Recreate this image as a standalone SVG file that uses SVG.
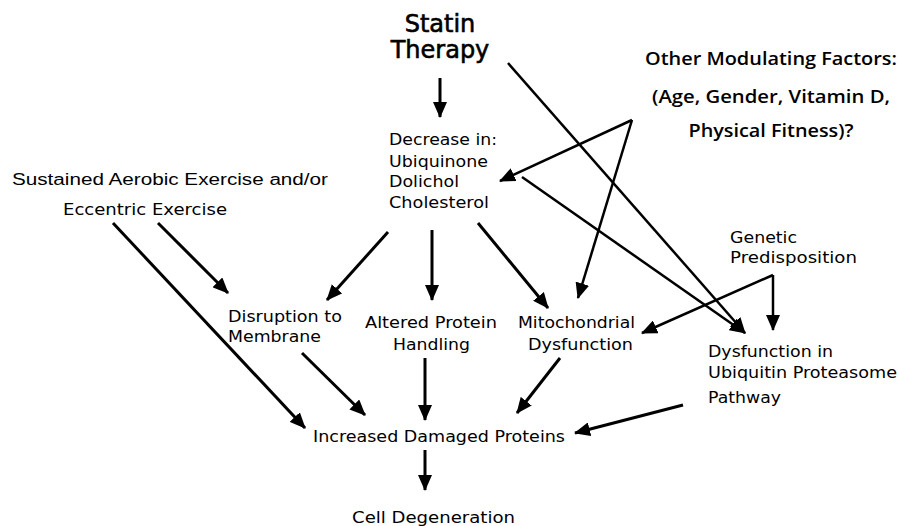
<svg xmlns="http://www.w3.org/2000/svg" width="898" height="526" viewBox="0 0 898 526">
<defs>
<marker id="ah" markerUnits="userSpaceOnUse" markerWidth="16" markerHeight="14" refX="15" refY="7" orient="auto">
<path d="M0,0 L16,7 L0,14 z" fill="#000"/>
</marker>
<style>
.t{font-family:"DejaVu Sans",sans-serif;font-size:15px;fill:#000}
.big{font-family:"DejaVu Sans",sans-serif;font-size:24px;fill:#000;stroke:#000;stroke-width:0.6}
.b{font-family:"Open Sans","Liberation Sans",sans-serif;font-weight:600;font-size:18px;fill:#000}
.a{font-family:"Liberation Sans",Arial,sans-serif;font-size:16px;fill:#000}
.c line{stroke:#000;stroke-width:3;marker-end:url(#ah)}
.c line.th{stroke-width:2.5}
</style>
</defs>
<rect width="898" height="526" fill="#fff"/>
<g id="statin"><text class="big" x="440" y="32" text-anchor="middle">Statin</text><text class="big" x="440" y="58" text-anchor="middle">Therapy</text></g>
<g id="decrease"><text class="t" x="389" y="145" textLength="108" lengthAdjust="spacingAndGlyphs">Decrease in:</text><text class="t" x="389" y="167" textLength="99" lengthAdjust="spacingAndGlyphs">Ubiquinone</text><text class="t" x="389" y="187" textLength="70" lengthAdjust="spacingAndGlyphs">Dolichol</text><text class="t" x="389" y="208" textLength="100" lengthAdjust="spacingAndGlyphs">Cholesterol</text></g>
<g id="other"><text class="b" x="771" y="65" text-anchor="middle" textLength="252" lengthAdjust="spacingAndGlyphs">Other Modulating Factors:</text><text class="b" x="771" y="103" text-anchor="middle" textLength="238" lengthAdjust="spacingAndGlyphs">(Age, Gender, Vitamin D,</text><text class="b" x="771" y="137" text-anchor="middle" textLength="165" lengthAdjust="spacingAndGlyphs">Physical Fitness)?</text></g>
<g id="exercise"><text class="a" x="12" y="185" textLength="316" lengthAdjust="spacingAndGlyphs">Sustained Aerobic Exercise and/or</text><text class="t" x="63" y="215" textLength="164" lengthAdjust="spacingAndGlyphs">Eccentric Exercise</text></g>
<g id="membrane"><text class="t" x="228" y="322" textLength="114" lengthAdjust="spacingAndGlyphs">Disruption to</text><text class="t" x="228" y="342" textLength="93" lengthAdjust="spacingAndGlyphs">Membrane</text></g>
<g id="protein"><text class="t" x="365" y="328" textLength="132" lengthAdjust="spacingAndGlyphs">Altered Protein</text><text class="t" x="393" y="350" textLength="77" lengthAdjust="spacingAndGlyphs">Handling</text></g>
<g id="mito"><text class="t" x="518" y="328" textLength="117" lengthAdjust="spacingAndGlyphs">Mitochondrial</text><text class="t" x="528" y="350" textLength="105" lengthAdjust="spacingAndGlyphs">Dysfunction</text></g>
<g id="genetic"><text class="t" x="730" y="243" textLength="67" lengthAdjust="spacingAndGlyphs">Genetic</text><text class="t" x="730" y="263" textLength="127" lengthAdjust="spacingAndGlyphs">Predisposition</text></g>
<g id="ups"><text class="t" x="708" y="357" textLength="125" lengthAdjust="spacingAndGlyphs">Dysfunction in</text><text class="t" x="708" y="378" textLength="189" lengthAdjust="spacingAndGlyphs">Ubiquitin Proteasome</text><text class="t" x="708" y="403" textLength="73" lengthAdjust="spacingAndGlyphs">Pathway</text></g>
<g id="damaged"><text class="t" x="313" y="442" textLength="252" lengthAdjust="spacingAndGlyphs">Increased Damaged Proteins</text></g>
<g id="cell"><text class="t" x="352" y="523" textLength="163" lengthAdjust="spacingAndGlyphs" style="font-size:16px">Cell Degeneration</text></g>
<g id="connectors" class="c">
<line x1="440" y1="78" x2="440" y2="117"/>
<line class="th" x1="508" y1="63" x2="745" y2="333"/>
<line class="th" x1="522" y1="177" x2="745" y2="333"/>
<line class="th" x1="632" y1="120" x2="500" y2="181"/>
<line class="th" x1="632" y1="120" x2="578" y2="298"/>
<line x1="113" y1="223" x2="305" y2="428"/>
<line x1="158" y1="223" x2="228" y2="293"/>
<line x1="388" y1="232" x2="327" y2="300"/>
<line x1="302" y1="353" x2="365" y2="415"/>
<line x1="432" y1="230" x2="432" y2="300"/>
<line x1="478" y1="223" x2="548" y2="308"/>
<line x1="425" y1="358" x2="425" y2="420"/>
<line x1="560" y1="358" x2="517" y2="413"/>
<line class="th" x1="773" y1="275" x2="773" y2="330"/>
<line class="th" x1="773" y1="275" x2="642" y2="333"/>
<line x1="683" y1="405" x2="575" y2="433"/>
<line x1="425" y1="450" x2="425" y2="490"/>
</g>
</svg>
